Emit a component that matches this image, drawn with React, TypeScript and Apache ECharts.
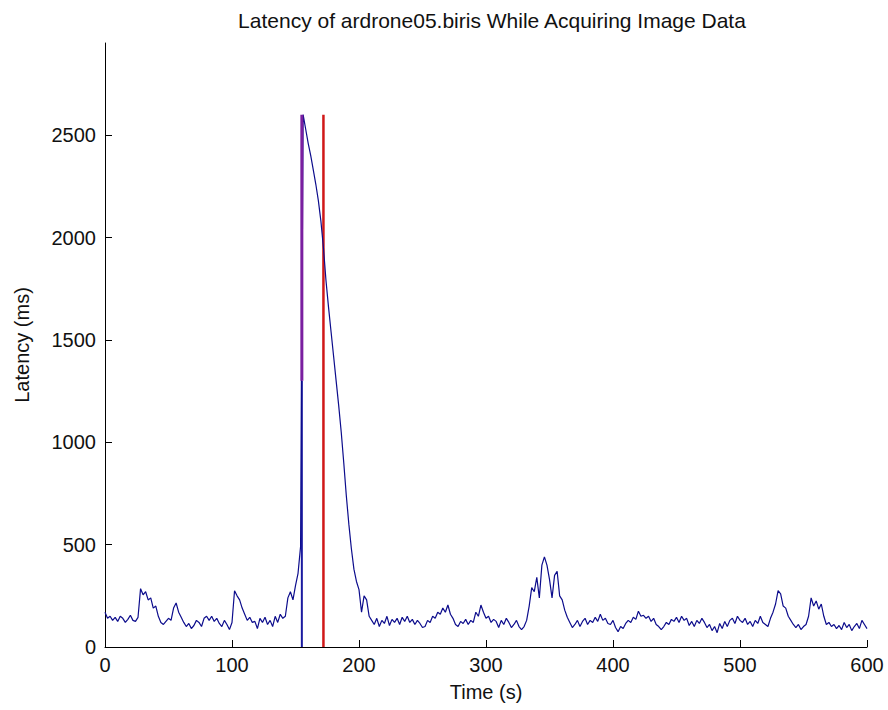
import React, { useEffect, useRef } from "react";
import * as echarts from "echarts";

// Sampling interval of the latency trace (seconds)
const sampleStep = 2;

// Latency (ms) sampled every 2 s from t = 0 to t = 600
const latency: number[] = [
  170, 140, 150, 130, 145, 125, 150, 140, 120, 135,
  155, 130, 125, 145, 285, 255, 270, 230, 240, 190,
  200, 150, 120, 110, 125, 140, 130, 190, 215, 170,
  145, 120, 100, 115, 90, 105, 130, 120, 100, 140,
  150, 130, 150, 125, 140, 115, 100, 130, 110, 85,
  120, 275, 250, 230, 190, 160, 130, 145, 120, 125,
  90, 140, 120, 145, 110, 130, 100, 150, 120, 160,
  140, 150, 240, 270, 230, 300, 360, 490, 2600, 2530,
  2460, 2400, 2330, 2260, 2180, 2080, 1950, 1790, 1660, 1540,
  1420, 1300, 1180, 1050, 900, 740, 600, 480, 380, 320,
  280, 170, 250, 230, 150, 130, 110, 140, 100, 130,
  115, 150, 105, 135, 120, 140, 110, 145, 125, 150,
  120, 135, 110, 130, 115, 95, 100, 130, 120, 150,
  140, 170, 160, 190, 170, 205, 160, 140, 110, 100,
  125, 115, 135, 110, 130, 120, 170, 150, 205, 170,
  140, 150, 120, 135, 125, 95, 130, 110, 140, 120,
  95, 110, 130, 100, 85, 100, 130, 200, 290, 270,
  340, 240, 400, 440, 400, 330, 240, 350, 370, 250,
  230, 180, 145, 120, 95, 110, 130, 100, 125, 140,
  110, 130, 120, 145, 125, 160, 130, 140, 115, 110,
  130, 95, 75, 100, 90, 115, 130, 120, 145, 135,
  175, 150, 155, 140, 150, 125, 140, 110, 100, 85,
  100, 120, 110, 135, 125, 145, 120, 150, 130, 140,
  105, 125, 100, 130, 115, 140, 120, 95, 110, 80,
  100, 70, 115, 90, 125, 100, 130, 140, 115, 150,
  130, 120, 140, 110, 125, 100, 130, 115, 150, 120,
  110, 100, 140, 170, 210, 275, 260, 200, 190, 150,
  130, 110, 95, 110, 85, 100, 110, 150, 240, 200,
  225, 185, 210, 150, 110, 120, 100, 110, 90, 105,
  85, 120, 95, 110, 80, 100, 115, 90, 130, 110,
  90,
];

// Event marker lines (time in s, heights in ms)
const startMarkerTime = 155;
const endMarkerTime = 172;
const markerHeight = 2600;
const startMarkerSplit = 1300; // lower part blue, upper part purple

const xTicks = [0, 100, 200, 300, 400, 500, 600];
const yTicks = [0, 500, 1000, 1500, 2000, 2500];

const FONT = "'Liberation Sans', Arial, sans-serif";
const FS = 20;

export default function App() {
  const ref = useRef<HTMLDivElement>(null);

  useEffect(() => {
    if (!ref.current) return;
    const chart = echarts.init(ref.current, undefined, { renderer: "svg" });
    const trace = latency.map((v, i) => [i * sampleStep, v]);

    chart.setOption({
      animation: false,
      backgroundColor: "#ffffff",
      title: {
        text: "Latency of ardrone05.biris While Acquiring Image Data",
        left: 487,
        textAlign: "center",
        top: 5,
        textStyle: { fontFamily: FONT, fontSize: 21, fontWeight: "normal", color: "#111" },
      },
      grid: {
        left: 105,
        right: 21,
        top: 43,
        bottom: 63,
        containLabel: false,
        outerBoundsMode: "none",
      },
      xAxis: {
        type: "value",
        min: 0,
        max: 600,
        interval: 100,
        name: "Time (s)",
        nameLocation: "middle",
        nameGap: 35,
        nameTextStyle: { fontFamily: FONT, fontSize: FS, color: "#111" },
        axisLine: { lineStyle: { color: "#000", width: 1 } },
        axisTick: { inside: true, length: 7, lineStyle: { color: "#000" }, customValues: xTicks },
        axisLabel: {
          fontFamily: FONT,
          fontSize: FS,
          color: "#111",
          margin: 8,
          customValues: xTicks,
          formatter: (v: number) => String(v),
        },
        splitLine: { show: false },
      },
      yAxis: {
        type: "value",
        min: 0,
        max: 2950,
        interval: 500,
        name: "Latency (ms)",
        nameLocation: "middle",
        nameGap: 73,
        nameRotate: 90,
        nameTextStyle: { fontFamily: FONT, fontSize: FS, color: "#111" },
        axisLine: { show: true, lineStyle: { color: "#000", width: 1 } },
        axisTick: { show: true, inside: true, length: 7, lineStyle: { color: "#000" }, customValues: yTicks },
        axisLabel: {
          fontFamily: FONT,
          fontSize: FS,
          color: "#111",
          margin: 9,
          customValues: yTicks,
          formatter: (v: number) => String(v),
        },
        splitLine: { show: false },
      },
      series: [
        {
          type: "line",
          data: [
            [startMarkerTime, 0],
            [startMarkerTime, startMarkerSplit],
          ],
          symbol: "none",
          lineStyle: { color: "#1a1aa0", width: 2 },
          silent: true,
          z: 1,
        },
        {
          type: "line",
          data: [
            [startMarkerTime, startMarkerSplit],
            [startMarkerTime, markerHeight],
          ],
          symbol: "none",
          lineStyle: { color: "#7a1fa0", width: 3 },
          silent: true,
          z: 4,
        },
        {
          type: "line",
          data: [
            [endMarkerTime, 0],
            [endMarkerTime, markerHeight],
          ],
          symbol: "none",
          lineStyle: { color: "#d01818", width: 2.5 },
          silent: true,
          z: 1,
        },
        {
          type: "line",
          data: trace,
          symbol: "none",
          lineStyle: { color: "#0c0c8c", width: 1.2 },
          z: 3,
        },
      ],
    });

    return () => chart.dispose();
  }, []);

  return (
    <div
      ref={ref}
      style={{ position: "fixed", left: 0, top: 0, width: 888, height: 710, background: "#fff" }}
    />
  );
}
